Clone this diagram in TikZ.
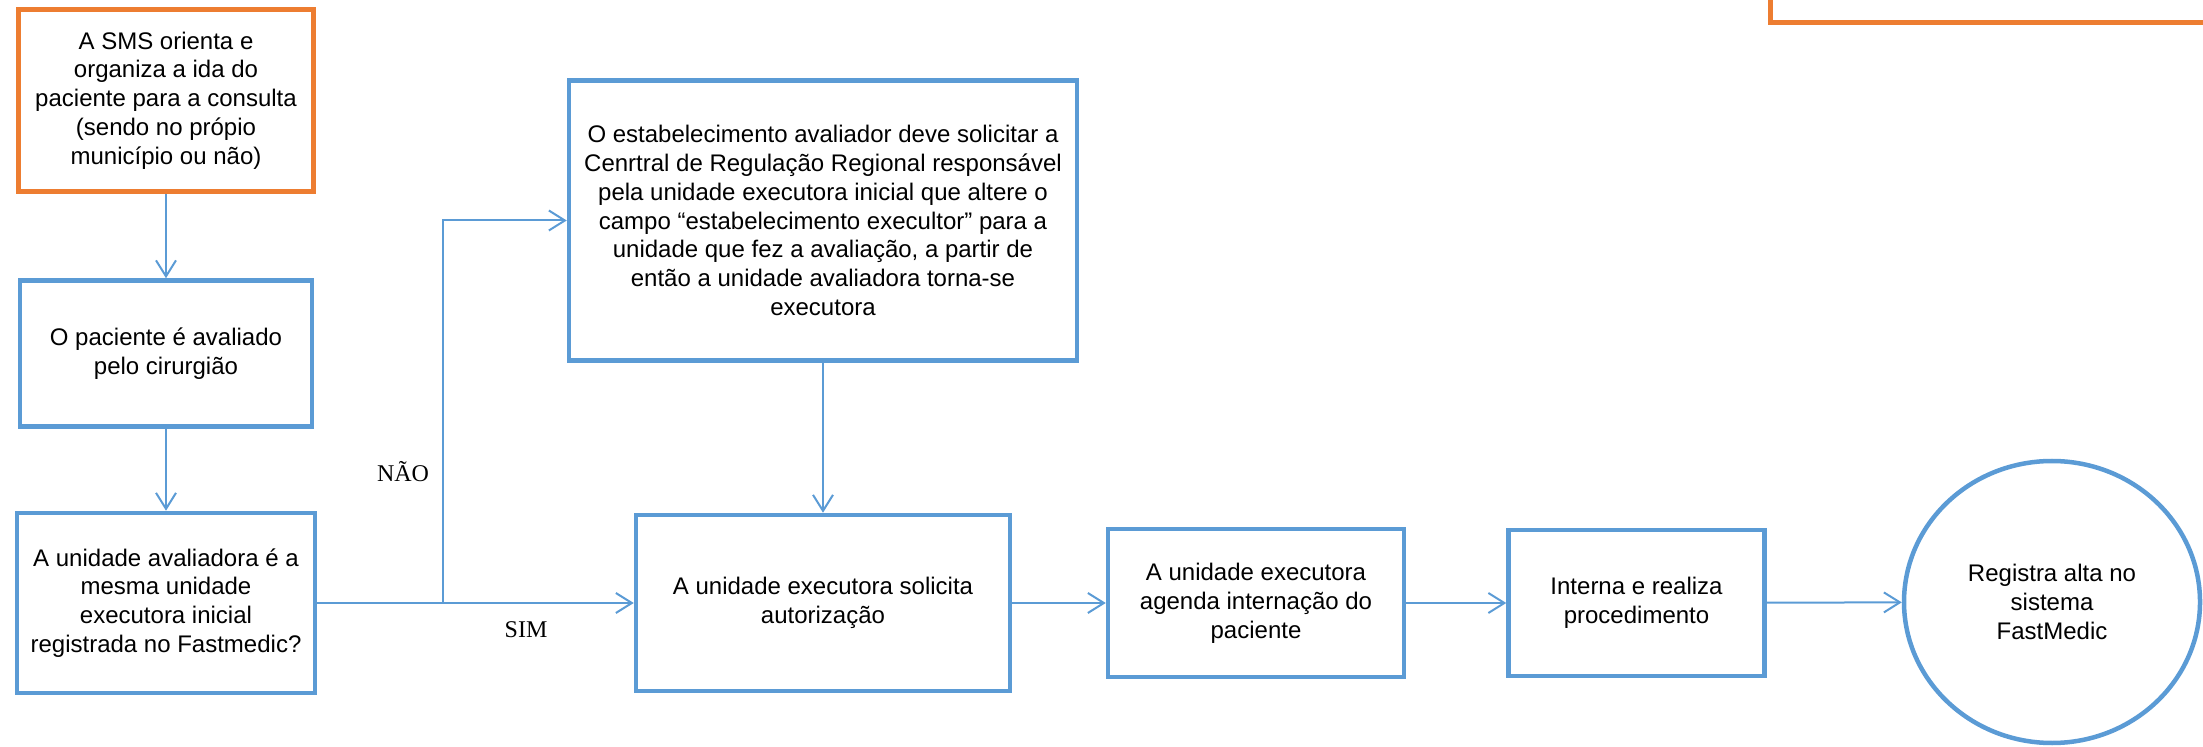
\documentclass[tikz,border=0pt]{standalone}
\usepackage{fontspec}
\setmainfont{Liberation Sans}
\newfontfamily\answerfont{Liberation Serif}
\usetikzlibrary{arrows.meta,shapes.geometric}
\definecolor{flowblue}{HTML}{5B9BD5}
\definecolor{floworange}{HTML}{ED7D31}
\tikzset{
  flowbox/.style={draw=flowblue, line width=2.25pt, align=center, inner sep=2pt, font=\fontsize{12}{14.4}\selectfont},
  startbox/.style={flowbox, draw=floworange, line width=2.5pt},
  endcircle/.style={flowbox, ellipse},
  flowline/.style={draw=flowblue, line width=1pt},
  flowarrow/.style={flowline, -{Straight Barb[length=8pt,width=10pt]}},
  answer/.style={font=\answerfont\fontsize{12}{14.4}\selectfont}
}
\begin{document}
\begin{tikzpicture}[x=0.5pt,y=-0.5pt]
\useasboundingbox (0,0) rectangle (2203,747);
\clip (0,0) rectangle (2203,747);
\coordinate (split) at (443,603);
\node[startbox, minimum width=230pt, minimum height=40pt] (corner) at (2000,-17) {};
\node[startbox, minimum width=147.5pt, minimum height=91pt] (sms) at (166,100.5)
  {A SMS orienta e\\organiza a ida do\\paciente para a consulta\\(sendo no própio\\município ou não)};
\node[flowbox, minimum width=146pt, minimum height=73pt] (avaliado) at (166,353.5)
  {O paciente é avaliado\\pelo cirurgião};
\node[flowbox, minimum width=149pt, minimum height=90pt] (mesma) at (166,603)
  {A unidade avaliadora é a\\mesma unidade\\executora inicial\\registrada no Fastmedic?};
\node[flowbox, minimum width=254pt, minimum height=140pt] (altera) at (823,220.5)
  {O estabelecimento avaliador deve solicitar a\\Cenrtral de Regulação Regional responsável\\pela unidade executora inicial que altere o\\campo “estabelecimento execultor” para a\\unidade que fez a avaliação, a partir de\\então a unidade avaliadora torna-se\\executora};
\node[flowbox, minimum width=187pt, minimum height=88pt] (solicita) at (823,603)
  {A unidade executora solicita\\autorização};
\node[flowbox, minimum width=148pt, minimum height=74pt] (agenda) at (1256,603)
  {A unidade executora\\agenda internação do\\paciente};
\node[flowbox, minimum width=128pt, minimum height=73pt] (interna) at (1636.5,603)
  {Interna e realiza\\procedimento};
\node[endcircle, minimum width=148pt, minimum height=141pt] (alta) at (2052,602)
  {Registra alta no\\sistema\\FastMedic};
\draw[flowarrow] (sms) -- (avaliado);
\draw[flowarrow] (avaliado) -- (mesma);
\draw[flowarrow] (mesma) -- (solicita);
\draw[flowarrow] (split) |- (altera);
\draw[flowarrow] (altera) -- (solicita);
\draw[flowarrow] (solicita) -- (agenda);
\draw[flowarrow] (agenda) -- (interna);
\draw[flowarrow] (interna) -- (alta);
\node[answer] (nao) at (403,472) {NÃO};
\node[answer] (sim) at (526,630) {SIM};
\end{tikzpicture}
\end{document}
